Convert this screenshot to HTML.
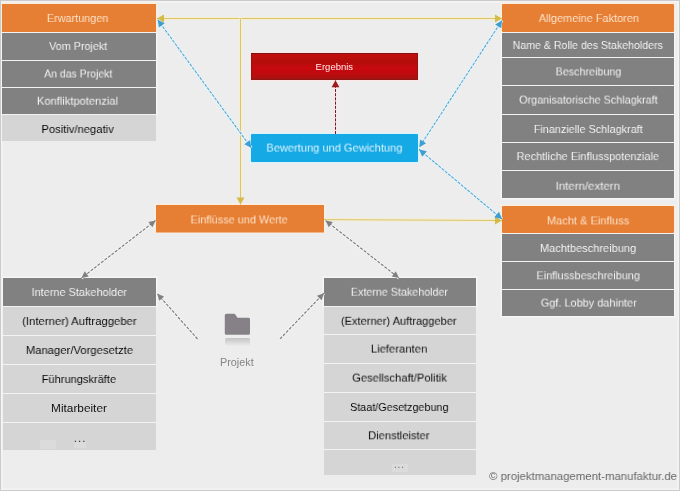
<!DOCTYPE html>
<html lang="de">
<head>
<meta charset="utf-8">
<title>Stakeholderanalyse</title>
<style>
html,body{margin:0;padding:0}
body{width:680px;height:491px;overflow:hidden;background:#ededed;font-family:"Liberation Sans",sans-serif;position:relative}
#frame{position:absolute;left:0;top:0;width:678px;height:489px;border:1px solid #cacaca;pointer-events:none}
#ring{position:absolute;left:1px;top:1px;width:678px;height:489px;box-shadow:inset 0 0 0 1px #f4f4f4,inset 0 0 0 2px #f1f1f1}
.bx{position:absolute;box-sizing:border-box;font-size:11.5px;text-align:center;white-space:nowrap;display:flex;align-items:center;justify-content:center}
.grp{position:absolute;background:#f3f3f3}
.h{position:absolute}
.ho{background:#fbeedd;box-shadow:0 0 0 1px #fbeedd,0 0 0 2px #f3eee8}
.hd{background:#f6f6f6;box-shadow:0 0 0 1px #f6f6f6,0 0 0 2px #f1f1f1}
.hb{background:#d9f3fc;box-shadow:0 0 0 1px #d9f3fc,0 0 0 2px #e8f0f3}
.hr{background:#fbe6e6;box-shadow:0 0 0 1px #fbe6e6,0 0 0 2px #f3ecec}
.bx i{position:absolute;background:#dbdbdb}
.bx span{display:inline-block;transform-origin:50% 50%;will-change:transform}
.o{background:#e67f34;color:#ffeedd;-webkit-text-stroke:0.1px #e67f34}
.d{background:#818181;color:#ffffff;-webkit-text-stroke:0.1px #818181}
.l{background:#d5d5d5;color:#000;-webkit-text-stroke:0.06px #d5d5d5}
.b{background:#15a9e5;color:#f2fbff;-webkit-text-stroke:0.08px #15a9e5}
.r{background:linear-gradient(#c40e0e,#b30e0a 32%,#c7090e 56%,#bf0a0e 78%,#a6140f);border:1px solid #8e1616;border-top-color:#7c1414;color:#ffecec;font-size:9.4px}
#arrows{position:absolute;left:0;top:0}
.t{position:absolute;white-space:nowrap;font-size:11.5px;transform-origin:0 50%;will-change:transform}
</style>
</head>
<body>
<div id="ring"></div>
<div class="h ho" style="left:2px;top:4px;width:154px;height:28px"></div>
<div class="h hd" style="left:2px;top:33px;width:154px;height:27px"></div>
<div class="h hd" style="left:2px;top:61px;width:154px;height:26px"></div>
<div class="h hd" style="left:2px;top:88px;width:154px;height:26px"></div>
<div class="h ho" style="left:502px;top:4px;width:172px;height:28px"></div>
<div class="h hd" style="left:502px;top:33px;width:172px;height:24px"></div>
<div class="h hd" style="left:502px;top:58px;width:172px;height:27px"></div>
<div class="h hd" style="left:502px;top:86px;width:172px;height:28px"></div>
<div class="h hd" style="left:502px;top:115px;width:172px;height:27px"></div>
<div class="h hd" style="left:502px;top:143px;width:172px;height:27px"></div>
<div class="h hd" style="left:502px;top:171px;width:172px;height:27px"></div>
<div class="h ho" style="left:502px;top:206px;width:172px;height:27px"></div>
<div class="h hd" style="left:502px;top:234px;width:172px;height:27px"></div>
<div class="h hd" style="left:502px;top:262px;width:172px;height:27px"></div>
<div class="h hd" style="left:502px;top:290px;width:172px;height:26px"></div>
<div class="h hd" style="left:3px;top:278px;width:153px;height:28px"></div>
<div class="h hd" style="left:324px;top:278px;width:152px;height:28px"></div>
<div class="h hr" style="left:251px;top:53px;width:167px;height:27px"></div>
<div class="h hb" style="left:251px;top:134px;width:167px;height:28px"></div>
<div class="h ho" style="left:156px;top:205px;width:168px;height:27px"></div>
<div class="grp" style="left:2px;top:4px;width:154px;height:137px"></div>
<div class="grp" style="left:502px;top:4px;width:172px;height:194px"></div>
<div class="grp" style="left:502px;top:206px;width:172px;height:110px"></div>
<div class="grp" style="left:3px;top:278px;width:153px;height:172px"></div>
<div class="grp" style="left:324px;top:278px;width:152px;height:197px"></div>
<div class="grp" style="left:251px;top:53px;width:167px;height:27px"></div>
<div class="grp" style="left:251px;top:134px;width:167px;height:28px"></div>
<div class="grp" style="left:156px;top:205px;width:168px;height:27px"></div>
<div class="bx o" style="left:2px;top:4px;width:154px;height:28px"><span style="transform:translate(-1.0px,0px) scaleX(0.9432)">Erwartungen</span></div>
<div class="bx d" style="left:2px;top:33px;width:154px;height:27px"><span style="transform:translate(-0.83px,-1.1px) scaleX(0.938)">Vom Projekt</span></div>
<div class="bx d" style="left:2px;top:61px;width:154px;height:26px"><span style="transform:translate(-1.17px,-0.5px) scaleX(0.911)">An das Projekt</span></div>
<div class="bx d" style="left:2px;top:88px;width:154px;height:26px"><span style="transform:translate(-1.42px,-0.3px) scaleX(0.969)">Konfliktpotenzial</span></div>
<div class="bx l" style="left:2px;top:115px;width:154px;height:26px"><span style="transform:translate(-1.5px,1px) scaleX(0.9749)">Positiv/negativ</span></div>
<div class="bx o" style="left:502px;top:4px;width:172px;height:28px;border-radius:1px"><span style="transform:translate(1.15px,0px) scaleX(0.9502)">Allgemeine Faktoren</span></div>
<div class="bx d" style="left:502px;top:33px;width:172px;height:24px"><span style="transform:translate(-0.77px,0px) scaleX(0.9211)">Name &amp; Rolle des Stakeholders</span></div>
<div class="bx d" style="left:502px;top:58px;width:172px;height:27px"><span style="transform:translate(0.3px,-0.6px) scaleX(0.9331)">Beschreibung</span></div>
<div class="bx d" style="left:502px;top:86px;width:172px;height:28px"><span style="transform:translate(0.58px,-0.4px) scaleX(0.9382)">Organisatorische Schlagkraft</span></div>
<div class="bx d" style="left:502px;top:115px;width:172px;height:27px"><span style="transform:translate(0.43px,0px) scaleX(0.9416)">Finanzielle Schlagkraft</span></div>
<div class="bx d" style="left:502px;top:143px;width:172px;height:27px"><span style="transform:translate(-0.02px,-0.9px) scaleX(0.9515)">Rechtliche Einflusspotenziale</span></div>
<div class="bx d" style="left:502px;top:171px;width:172px;height:27px"><span style="transform:translate(-0.51px,0.7px) scaleX(0.9976)">Intern/extern</span></div>
<div class="bx o" style="left:502px;top:206px;width:172px;height:27px;border-radius:1px"><span style="transform:translate(0.22px,0.4px) scaleX(0.9609)">Macht &amp; Einfluss</span></div>
<div class="bx d" style="left:502px;top:234px;width:172px;height:27px"><span style="transform:translate(-0.11px,0px) scaleX(0.9589)">Machtbeschreibung</span></div>
<div class="bx d" style="left:502px;top:262px;width:172px;height:27px"><span style="transform:translate(0.51px,-0.7px) scaleX(0.9458)">Einflussbeschreibung</span></div>
<div class="bx d" style="left:502px;top:290px;width:172px;height:26px"><span style="transform:translate(1.25px,-0.4px) scaleX(0.95)">Ggf. Lobby dahinter</span></div>
<div class="bx d" style="left:3px;top:278px;width:153px;height:28px"><span style="transform:translate(0.02px,0px) scaleX(0.9489)">Interne Stakeholder</span></div>
<div class="bx l" style="left:3px;top:307px;width:153px;height:28px"><span style="transform:translate(0.26px,0px) scaleX(0.9841)">(Interner) Auftraggeber</span></div>
<div class="bx l" style="left:3px;top:336px;width:153px;height:28px"><span style="transform:translate(-0.25px,0px) scaleX(0.9803)">Manager/Vorgesetzte</span></div>
<div class="bx l" style="left:3px;top:365px;width:153px;height:28px"><span style="transform:translate(-0.78px,0px) scaleX(0.9624)">Führungskräfte</span></div>
<div class="bx l" style="left:3px;top:394px;width:153px;height:28px"><span style="transform:translate(-0.19px,-0.3px) scaleX(1.0292)">Mitarbeiter</span></div>
<div class="bx l" style="left:3px;top:423px;width:153px;height:27px"><i style="left:37px;top:17px;width:16px;height:9px"></i><i style="left:71px;top:19px;width:12px;height:6px"></i><span style="transform:translate(0.8px,0.6px);letter-spacing:1px;color:#2a2a2a">...</span></div>
<div class="bx d" style="left:324px;top:278px;width:152px;height:28px"><span style="transform:translate(-0.65px,-0.3px) scaleX(0.9328)">Externe Stakeholder</span></div>
<div class="bx l" style="left:324px;top:307px;width:152px;height:27px"><span style="transform:translate(-1.33px,-0.2px) scaleX(0.9628)">(Externer) Auftraggeber</span></div>
<div class="bx l" style="left:324px;top:335px;width:152px;height:28px"><span style="transform:translate(-0.72px,-0.4px) scaleX(0.9804)">Lieferanten</span></div>
<div class="bx l" style="left:324px;top:364px;width:152px;height:28px"><span style="transform:translate(-0.13px,-0.4px) scaleX(0.9734)">Gesellschaft/Politik</span></div>
<div class="bx l" style="left:324px;top:393px;width:152px;height:28px"><span style="transform:translate(-1.16px,0px) scaleX(0.9388)">Staat/Gesetzgebung</span></div>
<div class="bx l" style="left:324px;top:422px;width:152px;height:27px"><span style="transform:translate(-0.83px,-0.7px) scaleX(0.9691)">Dienstleister</span></div>
<div class="bx l" style="left:324px;top:450px;width:152px;height:25px"><i style="left:68px;top:14px;width:16px;height:8px"></i><span style="transform:translate(-1px,2px);font-size:10px;letter-spacing:0.8px;color:#6a6a6a">...</span></div>
<div class="bx r" style="left:251px;top:53px;width:167px;height:27px"><span style="transform:translate(-0.15px,0px) scaleX(1.0125)">Ergebnis</span></div>
<div class="bx b" style="left:251px;top:134px;width:167px;height:28px;border-radius:1px"><span style="transform:translate(-0.24px,-0.4px) scaleX(0.962)">Bewertung und Gewichtung</span></div>
<div class="bx o" style="left:156px;top:205px;width:168px;height:27px;box-shadow:0 1px 0 #f0b585"><span style="transform:translate(-1.17px,0.4px) scaleX(0.9463)">Einflüsse und Werte</span></div>
<svg id="arrows" width="680" height="491" viewBox="0 0 680 491"><defs><linearGradient id="refl" x1="0" y1="0" x2="0" y2="1"><stop offset="0" stop-color="#7b7576" stop-opacity="0.35"/><stop offset="1" stop-color="#7b7576" stop-opacity="0"/></linearGradient></defs><line x1="157" y1="18.5" x2="502" y2="18.5" stroke="#f5efd0" stroke-width="3"/><line x1="157" y1="18.5" x2="502" y2="18.5" stroke="#dbc46c" stroke-width="1"/><polygon points="502.0,18.5 495.0,22.5 495.0,14.5" fill="#d4bb48"/><polygon points="157.0,18.5 164.0,14.5 164.0,22.5" fill="#d4bb48"/><line x1="240.5" y1="18.5" x2="240.5" y2="204.6" stroke="#f5efd0" stroke-width="3"/><line x1="240.5" y1="18.5" x2="240.5" y2="204.6" stroke="#dbc46c" stroke-width="1"/><polygon points="240.5,204.6 236.5,197.6 244.5,197.6" fill="#d4bb48"/><line x1="324" y1="219.6" x2="502" y2="220.5" stroke="#f5efd0" stroke-width="3"/><line x1="324" y1="219.6" x2="502" y2="220.5" stroke="#dbc46c" stroke-width="1"/><polygon points="502.0,220.5 495.0,224.5 495.0,216.5" fill="#d4bb48"/><line x1="157.7" y1="19.8" x2="251.3" y2="147.8" stroke="#e3f3f8" stroke-width="3"/><line x1="157.7" y1="19.8" x2="251.3" y2="147.8" stroke="#5aa4cf" stroke-width="1.05" stroke-dasharray="3 1.2"/><polygon points="251.3,147.8 244.3,144.3 250.1,140.0" fill="#3c9fd2"/><polygon points="157.7,19.8 164.7,23.3 158.9,27.6" fill="#3c9fd2"/><line x1="502" y1="20.5" x2="419.3" y2="147.2" stroke="#e3f3f8" stroke-width="3"/><line x1="502" y1="20.5" x2="419.3" y2="147.2" stroke="#5aa4cf" stroke-width="1.05" stroke-dasharray="3 1.2"/><polygon points="419.3,147.2 420.1,139.4 426.1,143.3" fill="#3c9fd2"/><polygon points="502.0,20.5 501.2,28.3 495.2,24.4" fill="#3c9fd2"/><line x1="419.2" y1="149.5" x2="502" y2="219" stroke="#e3f3f8" stroke-width="3"/><line x1="419.2" y1="149.5" x2="502" y2="219" stroke="#5aa4cf" stroke-width="1.05" stroke-dasharray="3 1.2"/><polygon points="502.0,219.0 494.3,217.3 499.0,211.7" fill="#3c9fd2"/><polygon points="419.2,149.5 426.9,151.2 422.2,156.8" fill="#3c9fd2"/><line x1="335.5" y1="134" x2="335.5" y2="80.2" stroke="#f6eaea" stroke-width="3"/><line x1="335.5" y1="134" x2="335.5" y2="80.2" stroke="#7e1a1a" stroke-width="1" stroke-dasharray="3 1.2"/><polygon points="335.5,80.2 339.4,87.2 331.6,87.2" fill="#a01818"/><line x1="155.6" y1="220.5" x2="81.5" y2="278" stroke="#f3f3f3" stroke-width="3"/><line x1="155.6" y1="220.5" x2="81.5" y2="278" stroke="#7c7c7c" stroke-width="1.15" stroke-dasharray="3 1.4"/><polygon points="81.5,278.0 84.7,271.3 88.7,276.6" fill="#808080"/><polygon points="155.6,220.5 152.4,227.2 148.4,221.9" fill="#808080"/><line x1="325.6" y1="220.6" x2="399" y2="278" stroke="#f3f3f3" stroke-width="3"/><line x1="325.6" y1="220.6" x2="399" y2="278" stroke="#7c7c7c" stroke-width="1.15" stroke-dasharray="3 1.4"/><polygon points="399.0,278.0 391.8,276.5 395.8,271.3" fill="#808080"/><polygon points="325.6,220.6 332.8,222.1 328.8,227.3" fill="#808080"/><line x1="197.5" y1="339" x2="157.3" y2="293.7" stroke="#f3f3f3" stroke-width="3"/><line x1="197.5" y1="339" x2="157.3" y2="293.7" stroke="#7c7c7c" stroke-width="1.15" stroke-dasharray="3 1.4"/><polygon points="157.3,293.7 164.1,296.4 159.2,300.8" fill="#808080"/><line x1="280" y1="338.9" x2="323.9" y2="293.2" stroke="#f3f3f3" stroke-width="3"/><line x1="280" y1="338.9" x2="323.9" y2="293.2" stroke="#7c7c7c" stroke-width="1.15" stroke-dasharray="3 1.4"/><polygon points="323.9,293.2 321.7,300.2 316.9,295.7" fill="#808080"/><path d="M226.3 313.8 h7.8 a1.5 1.5 0 0 1 1.2 0.6 l2.2 3.4 h11 a1.5 1.5 0 0 1 1.5 1.5 v14 a1.5 1.5 0 0 1 -1.5 1.5 h-22.2 a1.5 1.5 0 0 1 -1.5 -1.5 v-18 a1.5 1.5 0 0 1 1.5 -1.5z" fill="#858186"/><rect x="225" y="338" width="25" height="8" rx="1.5" fill="url(#refl)"/></svg>
<div class="t" style="left:220px;top:356px;font-size:10.5px;color:#858585;transform:scaleX(1.03)">Projekt</div>
<div class="t" style="left:488.5px;top:469.5px;color:#686868;transform:scaleX(0.9898)">© projektmanagement-manufaktur.de</div>
<div id="frame"></div>
</body>
</html>
